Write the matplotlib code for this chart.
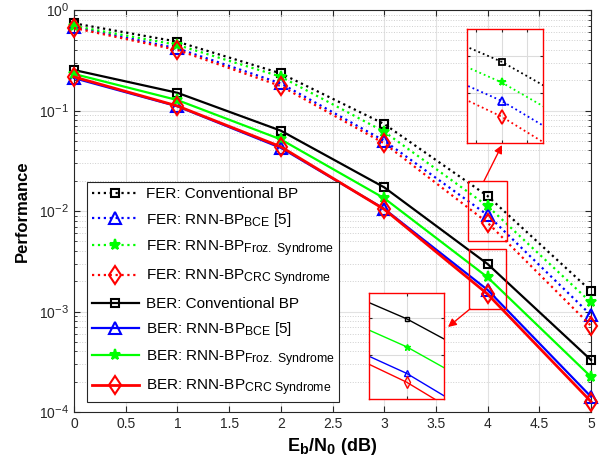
import numpy as np
import matplotlib
matplotlib.use('Agg')
import matplotlib.pyplot as plt
from matplotlib.patches import Rectangle
from matplotlib.ticker import (LogLocator, NullFormatter, FixedLocator,
                               NullLocator, LogFormatterMathtext, FormatStrFormatter)

try:
    import matplotlib._mathtext as _mt
    _mt.SHRINK_FACTOR = 0.8
except Exception:
    pass

plt.rcParams['font.family'] = ['Liberation Sans', 'DejaVu Sans']
plt.rcParams['mathtext.fontset'] = 'custom'
plt.rcParams['mathtext.rm'] = 'Liberation Sans'
plt.rcParams['mathtext.it'] = 'Liberation Sans:italic'
plt.rcParams['mathtext.bf'] = 'Liberation Sans:bold'

# ---------------- data ----------------
snr = [0, 1, 2, 3, 4, 5]
fer_conv = [0.737, 0.484, 0.234, 0.0734, 0.0141, 0.0016]
fer_bce = [0.68, 0.415, 0.186, 0.050, 0.00912, 0.00092]
fer_froz = [0.693, 0.449, 0.217, 0.0615, 0.0112, 0.00123]
fer_crc = [0.662, 0.40, 0.175, 0.0471, 0.00765, 0.00072]
ber_conv = [0.253, 0.150, 0.0630, 0.0172, 0.00297, 0.000329]
ber_bce = [0.21, 0.110, 0.0425, 0.0105, 0.00164, 0.000142]
ber_froz = [0.231, 0.127, 0.0516, 0.0134, 0.00219, 0.000224]
ber_crc = [0.216, 0.111, 0.0436, 0.0104, 0.00149, 0.000127]

labels = [
    'FER: Conventional BP',
    r'FER: RNN-BP$_{\mathrm{BCE}}$ [5]',
    r'FER: RNN-BP$_{\mathrm{Froz.\ Syndrome}}$',
    r'FER: RNN-BP$_{\mathrm{CRC\ Syndrome}}$',
    'BER: Conventional BP',
    r'BER: RNN-BP$_{\mathrm{BCE}}$ [5]',
    r'BER: RNN-BP$_{\mathrm{Froz.\ Syndrome}}$',
    r'BER: RNN-BP$_{\mathrm{CRC\ Syndrome}}$',
]
series = [fer_conv, fer_bce, fer_froz, fer_crc, ber_conv, ber_bce, ber_froz, ber_crc]

colors = ['black', 'blue', '#00ff00', 'red'] * 2
linestyles = [':'] * 4 + ['-'] * 4
markers = ['s', '^', '*', 'd'] * 2
msizes = [6, 8, 8, 9.5] * 2
filled = [False, False, True, False] * 2
lws = [1.6, 1.6, 1.6, 1.6, 1.6, 1.6, 1.6, 2.0]

fig = plt.figure(figsize=(6.02, 4.75), dpi=100)
ax = fig.add_axes([74 / 602, 63 / 475, 517 / 602, 402 / 475])

for y, lab, c, ls, m, ms, f, lw in zip(series, labels, colors, linestyles,
                                       markers, msizes, filled, lws):
    ax.semilogy(snr, y, linestyle=ls, color=c, marker=m, markersize=ms,
                markerfacecolor=(c if f else 'none'), markeredgecolor=c,
                markeredgewidth=1.5, lw=lw, label=lab, clip_on=False, zorder=3)

ax.set_xlim(0, 5)
ax.set_ylim(1e-4, 1)
ax.set_xticks(np.arange(0, 5.01, 0.5))
ax.xaxis.set_major_formatter(FormatStrFormatter('%g'))
ax.yaxis.set_major_locator(LogLocator(base=10, numticks=10))
ax.yaxis.set_minor_locator(LogLocator(base=10, subs=np.arange(2, 10), numticks=20))
ax.yaxis.set_major_formatter(LogFormatterMathtext())
ax.yaxis.set_minor_formatter(NullFormatter())
ax.tick_params(which='both', direction='in', top=True, right=True,
               labelsize=10, colors='#262626')
ax.tick_params(which='major', length=4)
ax.tick_params(which='minor', length=2.5)
ax.set_axisbelow(True)
ax.grid(which='major', color='#e2e2e2', lw=0.8, ls='-')
ax.grid(which='minor', axis='y', color='#cfcfcf', lw=0.7, ls=':')
for s in ax.spines.values():
    s.set_color('#262626')
    s.set_linewidth(0.8)

ax.set_xlabel(r'$\mathbf{E}_{\mathbf{b}}\mathbf{/N}_{\mathbf{0}}$ (dB)',
              fontsize=13, fontweight='bold', labelpad=4)
ax.set_ylabel('Performance', fontsize=12, fontweight='bold', labelpad=7)

leg = ax.legend(loc='lower left', bbox_to_anchor=(0.025, 0.025), fontsize=11,
                handlelength=3.1, labelspacing=0.62, borderpad=0.3,
                handletextpad=0.45, fancybox=False, framealpha=1,
                edgecolor='#262626', borderaxespad=0)
leg.get_frame().set_linewidth(0.8)
leg.set_zorder(10)

# zoom rectangles
rect1 = (3.81, 0.00505, 0.38, 0.0199 - 0.00505)
rect2 = (3.82, 0.00106, 0.36, 0.0042 - 0.00106)
for (x0, y0, w, h) in (rect1, rect2):
    ax.add_patch(Rectangle((x0, y0), w, h, fill=False, edgecolor='red', lw=1, zorder=5))

# inset 1: FER
ins1 = fig.add_axes([467 / 602, (475 - 143) / 475, 76 / 602, 114 / 475])
for i in range(4):
    ins1.semilogy(snr, series[i], linestyle=':', color=colors[i], marker=markers[i],
                  markersize=msizes[i] * 0.7, markerfacecolor=(colors[i] if filled[i] else 'none'),
                  markeredgecolor=colors[i], markeredgewidth=1.3, lw=1.3)
ins1.set_xlim(3.9, 4.12)
ins1.set_ylim(0.0057, 0.0203)
ins1.xaxis.set_major_locator(FixedLocator([3.925, 4.0, 4.075]))
ins1.yaxis.set_major_locator(FixedLocator([0.01, 0.015]))

# inset 2: BER
ins2 = fig.add_axes([369 / 602, (475 - 399) / 475, 75 / 602, 106 / 475])
for i in range(4, 8):
    ins2.semilogy(snr, series[i], linestyle='-', color=colors[i], marker=markers[i],
                  markersize=msizes[i] * 0.6, markerfacecolor=(colors[i] if filled[i] else 'none'),
                  markeredgecolor=colors[i], markeredgewidth=1.0, lw=1.0)
ins2.set_xlim(3.9, 4.1)
ins2.set_ylim(0.00124, 0.00393)
ins2.xaxis.set_major_locator(FixedLocator([4.0]))
ins2.yaxis.set_major_locator(FixedLocator([0.002, 0.003]))

for ins in (ins1, ins2):
    ins.yaxis.set_minor_locator(NullLocator())
    ins.xaxis.set_minor_locator(NullLocator())
    ins.xaxis.set_major_formatter(NullFormatter())
    ins.yaxis.set_major_formatter(NullFormatter())
    ins.tick_params(which='both', direction='in', length=2, top=True, right=True, colors='#262626')
    ins.set_axisbelow(True)
    ins.grid(True, color='#dcdcdc', lw=0.8)
    for s in ins.spines.values():
        s.set_color('red')
        s.set_linewidth(1.0)

# arrows
ax.annotate('', xy=(502, 475 - 145), xycoords='figure pixels',
            xytext=(3.965, 0.0199), textcoords='data',
            arrowprops=dict(arrowstyle='-|>', color='red', lw=1, mutation_scale=12,
                            shrinkA=0, shrinkB=0))
ax.annotate('', xy=(448, 475 - 327), xycoords='figure pixels',
            xytext=(3.83, 0.00106), textcoords='data',
            arrowprops=dict(arrowstyle='-|>', color='red', lw=1, mutation_scale=12,
                            shrinkA=0, shrinkB=0))

fig.savefig('out.png', dpi=100)
